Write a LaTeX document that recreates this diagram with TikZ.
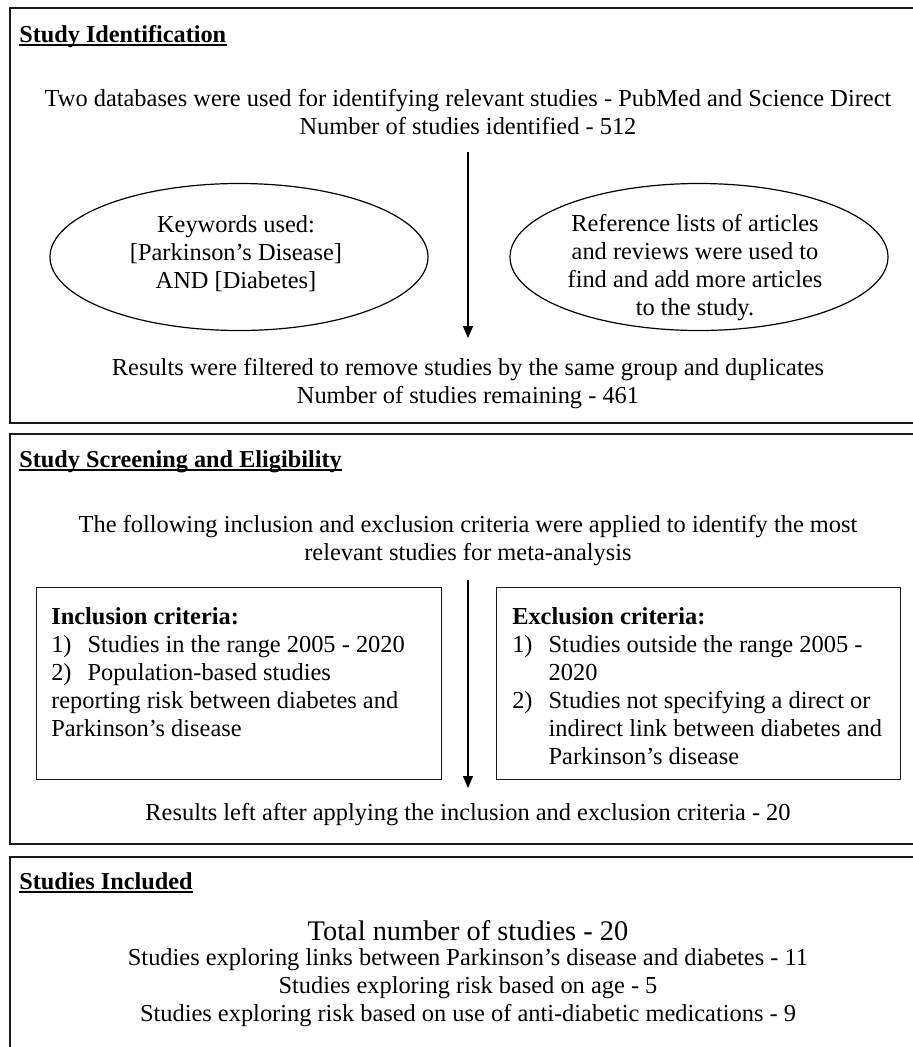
\documentclass[tikz,border=0pt]{standalone}
\usepackage{fontspec}
\setmainfont{Liberation Serif}
\usetikzlibrary{arrows.meta,shapes.geometric}
\newcommand{\itm}[1]{\makebox[27.3pt][l]{#1}}
\begin{document}
\begin{tikzpicture}[x=0.75pt,y=-0.75pt,
  panel/.style={draw=black!90,line width=1.3pt,rectangle,inner sep=0pt,anchor=north west,minimum width=690.75pt},
  critbox/.style={draw=black!90,line width=1pt,rectangle,inner sep=0pt,anchor=north west,minimum height=144pt},
  ell/.style={draw=black,line width=0.9pt,ellipse,inner sep=0pt,minimum width=283.5pt,minimum height=110.25pt},
  txt/.style={inner sep=0pt,font=\fontsize{18.3}{21}\selectfont,align=center},
  ltxt/.style={inner sep=0pt,font=\fontsize{18.3}{21}\selectfont,align=left,anchor=west},
  ttl/.style={inner sep=0pt,font=\fontsize{18.2}{21}\selectfont\bfseries,anchor=base west},
  uline/.style={line width=1.1pt},
  arr/.style={line width=1pt,-{Triangle[length=9pt,width=7.5pt]}}]
\useasboundingbox (0,0) rectangle (913,1047);
\clip (0,0) rectangle (913,1047);
\fill[white] (0,0) rectangle (913,1047);

% Panel 1
\node[panel,minimum height=311.25pt] (p1) at (9,7) {};
\node[ttl] (h1) at (19,42) {Study Identification};
\draw[uline] ([yshift=-2.4pt]h1.base west) -- ([yshift=-2.4pt]h1.base east);
\node[txt] (t1) at (468,112) {Two databases were used for identifying relevant studies - PubMed and Science Direct\\Number of studies identified - 512};
\node[ell] (e1) at (239,257) {};
\node[ell] (e2) at (699,257) {};
\node[txt] (k1) at (236,254) {Keywords used:\\{}[Parkinson’s Disease]\\AND [Diabetes]};
\node[txt] (k2) at (695,268) {Reference lists of articles\\and reviews were used to\\find and add more articles\\to the study.};
\coordinate (a1s) at (468,152);
\coordinate (a1e) at (468,338);
\draw[arr] (a1s) -- (a1e);
\node[txt] (t2) at (468,384) {Results were filtered to remove studies by the same group and duplicates\\Number of studies remaining - 461};

% Panel 2
\node[panel,minimum height=307.5pt] (p2) at (9,433) {};
\node[ttl] (h2) at (19,467) {Study Screening and Eligibility};
\draw[uline] ([yshift=-2.4pt]h2.base west) -- ([yshift=-2.4pt]h2.base east);
\node[txt] (t3) at (468,541) {The following inclusion and exclusion criteria were applied to identify the most\\relevant studies for meta-analysis};
\node[critbox,minimum width=303.75pt] (inc) at (36,587) {};
\node[critbox,minimum width=303pt] (exc) at (496,587) {};
\node[ltxt] (inct) at (51,672) {\textbf{Inclusion criteria:}\\\itm{1)}Studies in the range 2005 - 2020\\\itm{2)}Population-based studies\\reporting risk between diabetes and\\Parkinson’s disease};
\node[ltxt] (exct) at (512,686) {\textbf{Exclusion criteria:}\\\itm{1)}Studies outside the range 2005 -\\\itm{}2020\\\itm{2)}Studies not specifying a direct or\\\itm{}indirect link between diabetes and\\\itm{}Parkinson’s disease};
\coordinate (a2s) at (468,580);
\coordinate (a2e) at (468,788);
\draw[arr] (a2s) -- (a2e);
\node[txt] (t4) at (468,815) {Results left after applying the inclusion and exclusion criteria - 20};

% Panel 3
\node[panel,minimum height=165pt] (p3) at (9,856) {};
\node[ttl] (h3) at (19,889) {Studies Included};
\draw[uline] ([yshift=-2.4pt]h3.base west) -- ([yshift=-2.4pt]h3.base east);
\node[txt,font=\fontsize{21.3}{24}\selectfont] (t5) at (468,931) {Total number of studies - 20};
\node[txt] (t6) at (468,988) {Studies exploring links between Parkinson’s disease and diabetes - 11\\Studies exploring risk based on age - 5\\Studies exploring risk based on use of anti-diabetic medications - 9};
\end{tikzpicture}
\end{document}
